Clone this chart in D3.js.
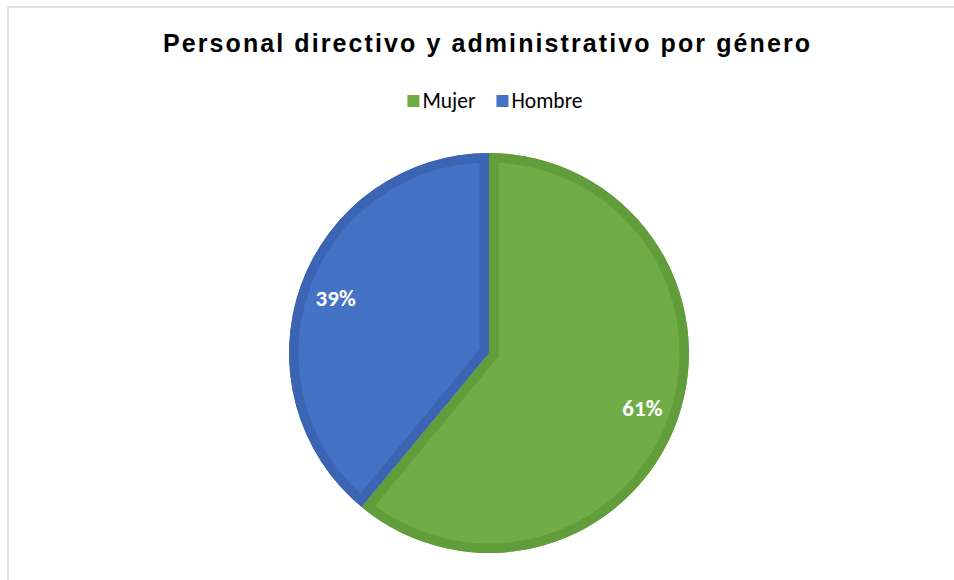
<!DOCTYPE html>
<html>
<head>
<meta charset="utf-8">
<script src="https://cdn.jsdelivr.net/npm/d3@7"></script>
<style>
  html, body { margin: 0; padding: 0; background: #fff; }
  svg { display: block; }
</style>
</head>
<body>
<svg id="chart" width="954" height="580"></svg>
<script>
const title = "Personal directivo y administrativo por género";
const categories = ["Mujer", "Hombre"];
const values = [61, 39];
const labels = ["61%", "39%"];
const fillColors = ["#70AD47", "#4472C4"];
const edgeColors = ["#629D3C", "#3B64B2"];

const svg = d3.select("#chart");
const W = 954, H = 580;

// chart border
svg.append("rect")
  .attr("x", 8).attr("y", 7)
  .attr("width", W + 10).attr("height", H + 10)
  .attr("fill", "#fff")
  .attr("stroke", "#d6d6d6")
  .attr("stroke-width", 1.5);

// title
const t = svg.append("text")
  .attr("x", 486.5).attr("y", 52)
  .attr("text-anchor", "middle")
  .attr("font-family", "'Liberation Sans', Arial, sans-serif")
  .attr("font-weight", "bold")
  .attr("font-size", 25)
  .attr("fill", "#000")
  .text(title);
{
  const target = 647;
  const w = t.node().getComputedTextLength();
  const ls = (target - w) / (title.length - 1);
  t.attr("letter-spacing", ls.toFixed(3));
  t.attr("x", 486.5 + ls / 2);
}

// legend
const legendFont = "Carlito, Calibri, Lato, 'Open Sans', sans-serif";
const lg = svg.append("g");
let xPos = 0;
categories.forEach((c, i) => {
  const g = lg.append("g");
  g.append("rect").attr("x", 0).attr("y", -13).attr("width", 12).attr("height", 12)
    .attr("fill", fillColors[i]);
  const tx = g.append("text").attr("x", 15).attr("y", 0)
    .attr("font-family", legendFont).attr("font-size", 21.5).attr("fill", "#000")
    .text(c);
  const w = 15 + tx.node().getComputedTextLength();
  g.attr("transform", `translate(${xPos},0)`);
  xPos += w + 21;
});
const legendW = xPos - 21;
lg.attr("transform", `translate(${495 - legendW / 2},108)`);

// pie
const cx = 489, cy = 353, r = 200;
const pie = d3.pie().sort(null).value(d => d)(values);
const arc = d3.arc().innerRadius(0).outerRadius(r);
const labelArc = d3.arc().innerRadius(r * 0.815).outerRadius(r * 0.815);

const defs = svg.append("defs");
const pg = svg.append("g").attr("transform", `translate(${cx},${cy})`);

pie.forEach((d, i) => {
  defs.append("clipPath").attr("id", "clip" + i)
    .append("path").attr("d", arc(d));
  pg.append("path")
    .attr("d", arc(d))
    .attr("fill", fillColors[i])
    .attr("stroke", edgeColors[i])
    .attr("stroke-width", 19)
    .attr("stroke-linejoin", "miter")
    .attr("clip-path", `url(#clip${i})`);
});

pie.forEach((d, i) => {
  const [lx, ly] = labelArc.centroid(d);
  pg.append("text")
    .attr("x", lx).attr("y", ly)
    .attr("text-anchor", "middle")
    .attr("dominant-baseline", "central")
    .attr("font-family", "Carlito, Calibri, Lato, sans-serif")
    .attr("font-weight", "bold")
    .attr("font-size", 23)
    .attr("fill", "#fff")
    .text(labels[i]);
});
</script>
</body>
</html>
